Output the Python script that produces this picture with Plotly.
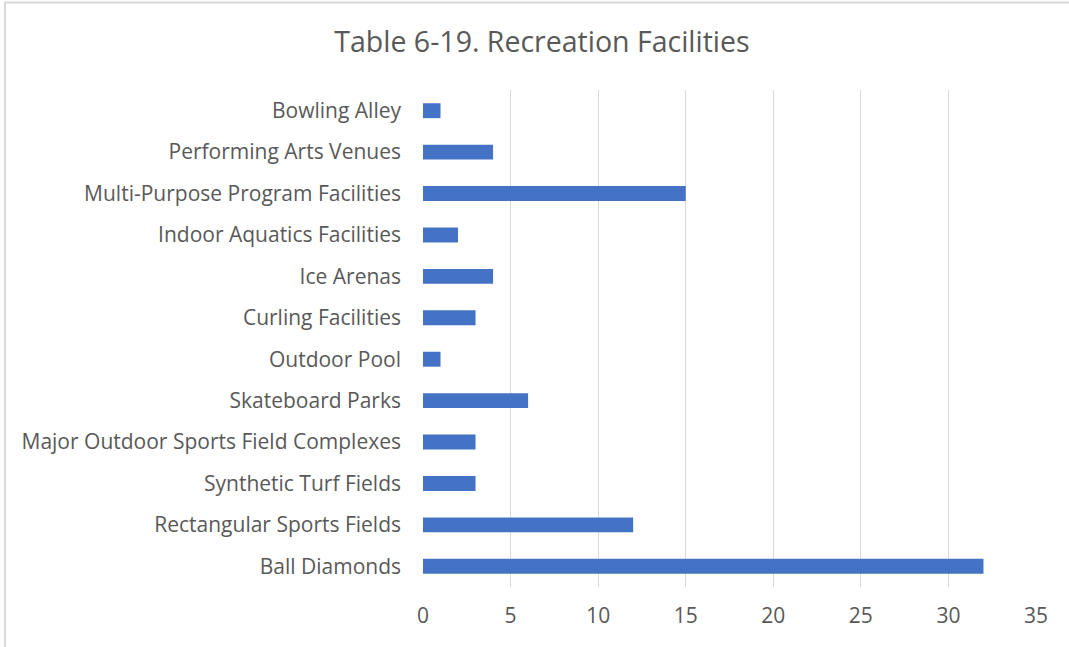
import plotly.graph_objects as go

# categories listed bottom to top as drawn
facilities = [
    "Ball Diamonds",
    "Rectangular Sports Fields",
    "Synthetic Turf Fields",
    "Major Outdoor Sports Field Complexes",
    "Skateboard Parks",
    "Outdoor Pool",
    "Curling Facilities",
    "Ice Arenas",
    "Indoor Aquatics Facilities",
    "Multi-Purpose Program Facilities",
    "Performing Arts Venues",
    "Bowling Alley",
]
counts = [32, 12, 3, 3, 6, 1, 3, 4, 2, 15, 4, 1]
x_ticks = [0, 5, 10, 15, 20, 25, 30, 35]

trace = go.Bar(
    x=counts,
    y=facilities,
    orientation='h',
    marker=dict(color='#4472C4', line=dict(width=0)),
    hoverinfo='x+y',
)

layout = go.Layout(
    title=dict(
        text="Table 6-19. Recreation Facilities",
        x=0.507,
        xanchor='center',
        y=0.935,
        yanchor='middle',
        font=dict(family="Open Sans, sans-serif", size=28.5, color='#595959'),
    ),
    xaxis=dict(
        range=[0, 35],
        tickvals=x_ticks,
        showgrid=True,
        gridcolor='#D9D9D9',
        gridwidth=1,
        zeroline=False,
        showline=False,
        ticks='',
        tickfont=dict(family="Open Sans, sans-serif", size=21, color='#595959'),
        ticklabelstandoff=14,
    ),
    yaxis=dict(
        categoryorder='array',
        categoryarray=facilities,
        showgrid=False,
        zeroline=False,
        showline=False,
        ticks='',
        ticklabelstandoff=21,
        tickfont=dict(family="Open Sans, sans-serif", size=21, color='#595959'),
    ),
    bargap=0.64,
    paper_bgcolor='white',
    plot_bgcolor='white',
    width=1069,
    height=647,
    margin=dict(l=423, r=33, t=90, b=60),
    showlegend=False,
    shapes=[
        # light chart border like the office chart frame
        dict(type='rect', xref='paper', yref='paper',
             x0=-0.682, x1=1.06, y0=-0.2, y1=1.176,
             line=dict(color='#D9D9D9', width=2), fillcolor='rgba(0,0,0,0)',
             layer='below'),
    ],
)

fig = go.Figure(data=[trace], layout=layout)
fig.write_html("out.html", config={'displayModeBar': False},
               post_script="document.body.style.margin='0';")
